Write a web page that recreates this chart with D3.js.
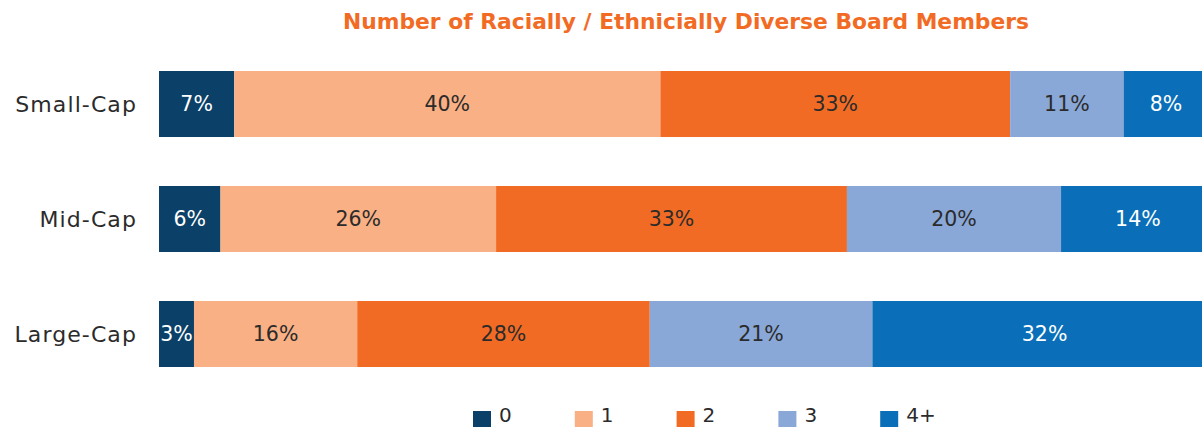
<!DOCTYPE html>
<html lang="en">
<head>
  <meta charset="UTF-8">
  <title>Racially / Ethnically Diverse Board Members</title>
  <style>
    body {
      margin: 0;
      padding: 0;
      background-color: white;
    }
    svg {
      display: block;
      font-family: "DejaVu Sans", Verdana, sans-serif;
    }
    .title {
      fill: #f26b24;
      font-weight: bold;
      font-size: 21.8px;
    }
    .cat-label {
      fill: #2b2b2b;
      font-size: 22px;
      letter-spacing: 1.1px;
    }
    .seg-label {
      font-size: 20.5px;
    }
    .legend-label {
      fill: #2b2b2b;
      font-size: 20px;
    }
  </style>
</head>
<body>
  <div id="chart"></div>

  <script src="https://d3js.org/d3.v7.min.js"></script>
  <script>
    // data
    var categories = ["Small-Cap", "Mid-Cap", "Large-Cap"];
    var seriesNames = ["0", "1", "2", "3", "4+"];
    var smallCap = [7.1, 40.2, 33.0, 10.7, 8.0];
    var midCap = [5.8, 26.0, 33.1, 20.2, 14.5];
    var largeCap = [3.3, 15.4, 27.6, 21.0, 32.5];
    var smallCapLabels = ["7%", "40%", "33%", "11%", "8%"];
    var midCapLabels = ["6%", "26%", "33%", "20%", "14%"];
    var largeCapLabels = ["3%", "16%", "28%", "21%", "32%"];

    var colors = ["#0b4168", "#f9b084", "#f26b24", "#8aa8d7", "#0a6fb8"];
    var labelColors = ["#ffffff", "#2b2b2b", "#2b2b2b", "#2b2b2b", "#ffffff"];

    var rows = [
      {name: categories[0], values: smallCap, labels: smallCapLabels},
      {name: categories[1], values: midCap, labels: midCapLabels},
      {name: categories[2], values: largeCap, labels: largeCapLabels}
    ];

    var width = 1202, height = 427;

    var x = d3.scaleLinear()
              .domain([0, 100])
              .range([159, 1219]);

    var y = d3.scaleBand()
              .domain(categories)
              .range([71, 367])
              .paddingInner(0.426)
              .paddingOuter(0);

    var svg = d3.select("#chart").append("svg")
                .attr("width", width)
                .attr("height", height);

    svg.append("text")
       .attr("class", "title")
       .attr("x", 686)
       .attr("y", 29)
       .attr("text-anchor", "middle")
       .text("Number of Racially / Ethnicially Diverse Board Members");

    // stack each row
    rows.forEach(function(row) {
      var acc = 0;
      row.segs = row.values.map(function(v, i) {
        var s = {start: acc, end: acc + v, i: i, label: row.labels[i]};
        acc += v;
        return s;
      });
    });

    var rowG = svg.selectAll(".row")
                  .data(rows)
                  .enter().append("g")
                  .attr("class", "row");

    rowG.selectAll("rect")
        .data(function(d) { return d.segs; })
        .enter().append("rect")
        .attr("x", function(d) { return x(d.start); })
        .attr("width", function(d) { return x(d.end) - x(d.start); })
        .attr("y", function() { return y(d3.select(this.parentNode).datum().name); })
        .attr("height", y.bandwidth())
        .attr("fill", function(d) { return colors[d.i]; });

    rowG.selectAll(".seg-label")
        .data(function(d) { return d.segs; })
        .enter().append("text")
        .attr("class", "seg-label")
        .attr("x", function(d) { return (x(d.start) + x(d.end)) / 2; })
        .attr("y", function() { return y(d3.select(this.parentNode).datum().name) + y.bandwidth() / 2; })
        .attr("dy", "0.36em")
        .attr("text-anchor", "middle")
        .attr("fill", function(d) { return labelColors[d.i]; })
        .text(function(d) { return d.label; });

    svg.append("g")
       .selectAll("text")
       .data(categories)
       .enter().append("text")
       .attr("class", "cat-label")
       .attr("x", 137)
       .attr("y", function(d) { return y(d) + y.bandwidth() / 2; })
       .attr("dy", "0.36em")
       .attr("text-anchor", "end")
       .text(function(d) { return d; });

    // legend
    var legend = svg.append("g")
                    .attr("class", "legend")
                    .attr("transform", "translate(473,411)");

    var item = legend.selectAll(".legend-item")
                     .data(seriesNames)
                     .enter().append("g")
                     .attr("class", "legend-item")
                     .attr("transform", function(d, i) { return "translate(" + (i * 101.8) + ",0)"; });

    item.append("rect")
        .attr("width", 18)
        .attr("height", 18)
        .attr("fill", function(d, i) { return colors[i]; });

    item.append("text")
        .attr("class", "legend-label")
        .attr("x", 26)
        .attr("y", 11)
        .text(function(d) { return d; });
  </script>
</body>
</html>
